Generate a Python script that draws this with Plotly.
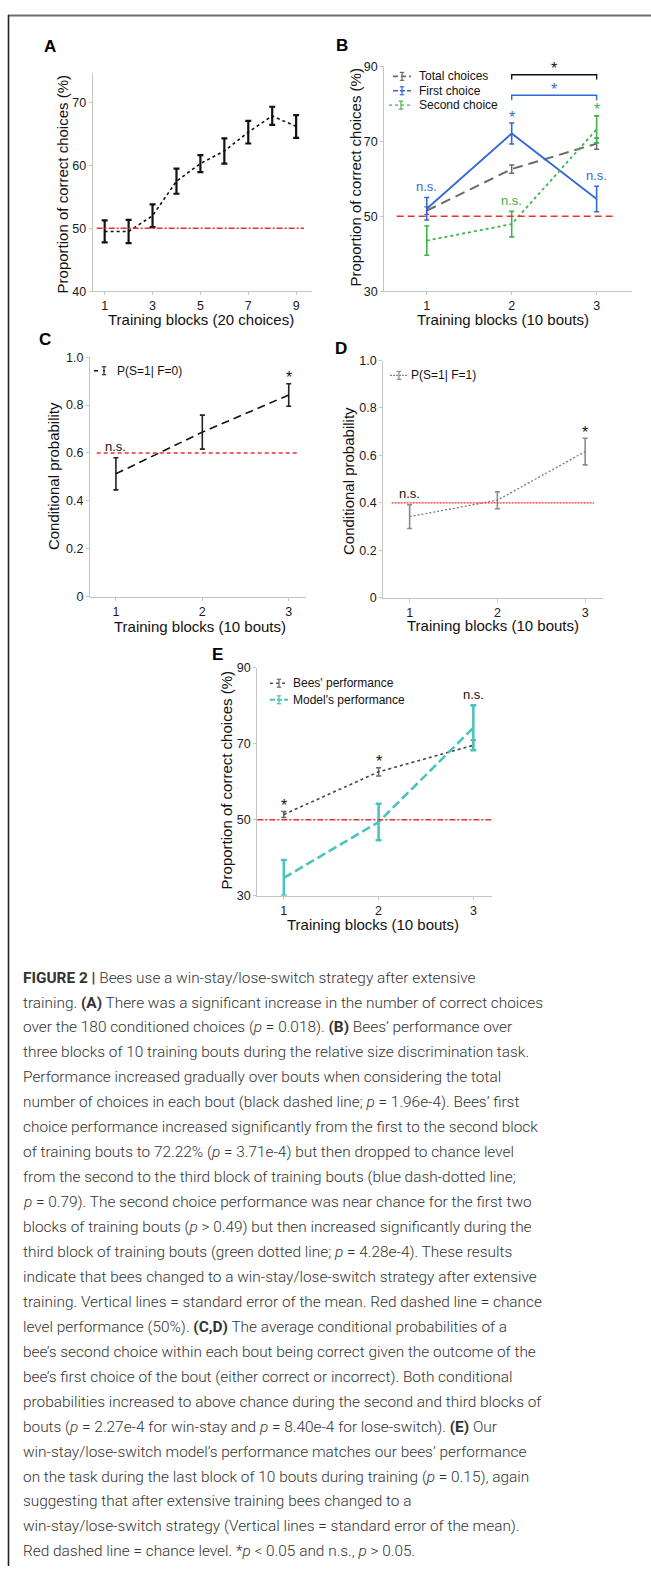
import plotly.graph_objects as go

W, H = 651, 1573

# ---------------- data ----------------
a_blocks = [1, 2, 3, 4, 5, 6, 7, 8, 9]
a_mean = [49.5, 49.5, 52.0, 57.5, 60.3, 62.3, 65.3, 67.9, 66.2]
a_sem = [1.75, 1.85, 1.8, 2.0, 1.35, 2.0, 1.8, 1.45, 1.8]
a_chance = 50
a_xticks = [1, 3, 5, 7, 9]
a_yticks = [40, 50, 60, 70]

b_blocks = [1, 2, 3]
b_total_mean = [51.5, 62.6, 69.4]
b_total_sem = [1.0, 1.1, 1.5]
b_first_mean = [52.0, 72.1, 54.6]
b_first_sem = [3.0, 2.8, 3.4]
b_second_mean = [43.5, 47.9, 73.2]
b_second_sem = [3.9, 3.4, 3.6]
b_first_sig = ["n.s.", "*", "n.s."]
b_second_sig = ["", "n.s.", "*"]
b_bracket_x = [2, 3]
b_bracket_y = [87.8, 82.3]
b_bracket_sig = ["*", "*"]
b_chance = 50
b_yticks = [30, 50, 70, 90]
b_legend = ["Total choices", "First choice", "Second choice"]

c_blocks = [1, 2, 3]
c_mean = [0.513, 0.687, 0.842]
c_sem = [0.067, 0.071, 0.047]
c_sig = ["n.s.", "", "*"]
c_chance = 0.6
cd_yticks = [0, 0.2, 0.4, 0.6, 0.8, 1.0]
cd_yticklabels = ["0", "0.2", "0.4", "0.6", "0.8", "1.0"]
c_legend = "P(S=1| F=0)"

d_blocks = [1, 2, 3]
d_mean = [0.342, 0.411, 0.616]
d_sem = [0.05, 0.036, 0.056]
d_sig = ["n.s.", "", "*"]
d_chance = 0.4
d_legend = "P(S=1| F=1)"

e_blocks = [1, 2, 3]
e_bees_mean = [51.4, 62.6, 69.6]
e_bees_sem = [0.8, 1.1, 1.3]
e_bees_sig = ["*", "*", ""]
e_model_mean = [34.7, 49.4, 74.2]
e_model_sem = [4.7, 4.8, 5.9]
e_model_sig = ["", "", "n.s."]
e_chance = 50
e_legend = ["Bees' performance", "Model's performance"]

caption_lines = [
    "<b>FIGURE 2 |</b> Bees use a win-stay/lose-switch strategy after extensive",
    "training. <b>(A)</b> There was a significant increase in the number of correct choices",
    "over the 180 conditioned choices (<i>p</i> = 0.018). <b>(B)</b> Bees\u2019 performance over",
    "three blocks of 10 training bouts during the relative size discrimination task.",
    "Performance increased gradually over bouts when considering the total",
    "number of choices in each bout (black dashed line; <i>p</i> = 1.96e-4). Bees\u2019 first",
    "choice performance increased significantly from the first to the second block",
    "of training bouts to 72.22% (<i>p</i> = 3.71e-4) but then dropped to chance level",
    "from the second to the third block of training bouts (blue dash-dotted line;",
    "<i>p</i> = 0.79). The second choice performance was near chance for the first two",
    "blocks of training bouts (<i>p</i> &gt; 0.49) but then increased significantly during the",
    "third block of training bouts (green dotted line; <i>p</i> = 4.28e-4). These results",
    "indicate that bees changed to a win-stay/lose-switch strategy after extensive",
    "training. Vertical lines = standard error of the mean. Red dashed line = chance",
    "level performance (50%). <b>(C,D)</b> The average conditional probabilities of a",
    "bee\u2019s second choice within each bout being correct given the outcome of the",
    "bee\u2019s first choice of the bout (either correct or incorrect). Both conditional",
    "probabilities increased to above chance during the second and third blocks of",
    "bouts (<i>p</i> = 2.27e-4 for win-stay and <i>p</i> = 8.40e-4 for lose-switch). <b>(E)</b> Our",
    "win-stay/lose-switch model\u2019s performance matches our bees\u2019 performance",
    "on the task during the last block of 10 bouts during training (<i>p</i> = 0.15), again",
    "suggesting that after extensive training bees changed to a",
    "win-stay/lose-switch strategy (Vertical lines = standard error of the mean).",
    "Red dashed line = chance level. *<i>p</i> &lt; 0.05 and n.s., <i>p</i> &gt; 0.05.",
]

# ---------------- styling ----------------
FONT = "Liberation Sans, Arial, sans-serif"
CAP_FONT = "Roboto, Liberation Sans, Arial, sans-serif"
BLUE = "#3567dc"
GREEN = "#3fb24a"
TEAL = "#4cc3bf"
RED = "#e8322c"


def PX(x):
    return x / W


def PY(y):
    return 1 - y / H


fig = go.Figure()
shapes = []
annotations = []

panels = [
    ("A", "", (92.7, 311.7), (66.7, 286.7), [0.5, 9.65], [40, 74.7], a_xticks, a_yticks, None, (50, 39.7),
     "Proportion of correct choices (%)", (62, 179), "Training blocks (20 choices)", (201, 315)),
    ("B", "2", (384.3, 632.3), (60, 286.7), [0.5, 3.42], [30, 90], b_blocks, b_yticks, None, (342, 39),
     "Proportion of correct choices (%)", (355, 172), "Training blocks (10 bouts)", (502.5, 315)),
    ("C", "3", (90, 306), (353.3, 595), [0.7, 3.2], [0, 1], c_blocks, cd_yticks, cd_yticklabels, (45, 335),
     "Conditional probability", (53.3, 473), "Training blocks (10 bouts)", (199.7, 625)),
    ("D", "4", (383.3, 602.7), (356.7, 596), [0.7, 3.2], [0, 1], d_blocks, cd_yticks, cd_yticklabels, (341, 345),
     "Conditional probability", (348.3, 478), "Training blocks (10 bouts)", (492.8, 624.3)),
    ("E", "5", (257.3, 492.3), (666.7, 896.7), [0.72, 3.2], [30, 90], e_blocks, b_yticks, None, (217.5, 653.5),
     "Proportion of correct choices (%)", (226.7, 780.7), "Training blocks (10 bouts)", (372.7, 926)),
]

layout_axes = {}
for (lab, s, xs, ys, xr, yr, xt, yt, ytt, lpos, ytitle, ytpos, xtitle, xtpos) in panels:
    common = dict(showgrid=False, zeroline=False, showline=True, linecolor="#c4c4c4", linewidth=1.2,
                  ticks="outside", ticklen=3, tickcolor="#c4c4c4",
                  tickfont=dict(family=FONT, size=12.5, color="#1a1a1a"), fixedrange=True)
    layout_axes["xaxis" + s] = dict(common, domain=[PX(xs[0]), PX(xs[1])], range=xr,
                                    tickvals=xt, anchor="y" + s)
    yax = dict(common, domain=[PY(ys[1]), PY(ys[0])], range=yr, tickvals=yt, anchor="x" + s)
    if ytt is not None:
        yax["ticktext"] = ytt
    layout_axes["yaxis" + s] = yax
    annotations.append(dict(text="<b>%s</b>" % lab, x=PX(lpos[0]), y=PY(lpos[1]), xref="paper", yref="paper",
                            showarrow=False, xanchor="center", yanchor="middle",
                            font=dict(family=FONT, size=17, color="#000")))
    annotations.append(dict(text=ytitle, x=PX(ytpos[0]), y=PY(ytpos[1]), xref="paper", yref="paper",
                            showarrow=False, textangle=-90, xanchor="center", yanchor="middle",
                            font=dict(family=FONT, size=15, color="#111")))
    annotations.append(dict(text=xtitle, x=PX(xtpos[0]), y=PY(xtpos[1]), xref="paper", yref="paper",
                            showarrow=False, xanchor="center", yanchor="middle",
                            font=dict(family=FONT, size=15, color="#111")))


def add_series(s, x, mean, sem, color, dash, width, ecolor, ethick, ewidth, name):
    fig.add_trace(go.Scatter(
        x=x, y=mean, mode="lines", name=name, showlegend=False,
        line=dict(color=color, width=width, dash=dash),
        error_y=dict(type="data", array=sem, color=ecolor, thickness=ethick, width=ewidth),
        xaxis="x" + s, yaxis="y" + s))


def add_sig(s, x, mean, sem, labels, color):
    for xi, m, e, t in zip(x, mean, sem, labels):
        if not t:
            continue
        star = t == "*"
        annotations.append(dict(text=t, x=xi, y=m + e, xref="x" + s, yref="y" + s, showarrow=False,
                                xanchor="center", yanchor="middle", yshift=6 if star else 11,
                                font=dict(family=FONT, size=16 if star else 13, color=color)))


def add_chance(s, y, d0, d1, dash, width=1.4):
    shapes.append(dict(type="line", xref="x%s domain" % s, yref="y" + s, x0=d0, x1=d1, y0=y, y1=y,
                       line=dict(color=RED, width=width, dash=dash), layer="above"))


def legend_item(x0, x1, xi, xt, y, label, color, dash, width, ecolor):
    shapes.append(dict(type="line", xref="paper", yref="paper", x0=PX(x0), x1=PX(x1), y0=PY(y), y1=PY(y),
                       line=dict(color=color, width=width, dash=dash)))
    shapes.append(dict(type="line", xref="paper", yref="paper", x0=PX(xi), x1=PX(xi), y0=PY(y - 4), y1=PY(y + 4),
                       line=dict(color=ecolor, width=1.2)))
    for yy in (y - 4, y + 4):
        shapes.append(dict(type="line", xref="paper", yref="paper", x0=PX(xi - 2.2), x1=PX(xi + 2.2),
                           y0=PY(yy), y1=PY(yy), line=dict(color=ecolor, width=1.2)))
    annotations.append(dict(text=label, x=PX(xt), y=PY(y), xref="paper", yref="paper", showarrow=False,
                            xanchor="left", yanchor="middle", font=dict(family=FONT, size=12, color="#111")))


# ---- Panel A ----
add_chance("", a_chance, 0.018, 0.965, "6px,2px,2px,2px", 1.4)
add_series("", a_blocks, a_mean, a_sem, "#111", "dot", 1.6, "#111", 2.2, 3, "A")

# ---- Panel B ----
add_chance("2", b_chance, 0.05, 0.923, "7px,4px", 1.4)
add_series("2", b_blocks, b_total_mean, b_total_sem, "#6a6a6a", "10px,6px", 2.0, "#6a6a6a", 1.4, 2.5, b_legend[0])
add_series("2", b_blocks, b_first_mean, b_first_sem, BLUE, "solid", 1.8, BLUE, 1.6, 2.5, b_legend[1])
add_series("2", b_blocks, b_second_mean, b_second_sem, GREEN, "dot", 1.8, GREEN, 1.6, 2.5, b_legend[2])
add_sig("2", b_blocks, b_first_mean, b_first_sem, b_first_sig, BLUE)
add_sig("2", b_blocks, b_second_mean, b_second_sem, b_second_sig, GREEN)
for by, bt, bc in zip(b_bracket_y, b_bracket_sig, ["#111", BLUE]):
    xa, xb = b_bracket_x
    tip = by - 1.3
    shapes.append(dict(type="path", xref="x2", yref="y2",
                       path="M %s,%s L %s,%s L %s,%s L %s,%s" % (xa, tip, xa, by, xb, by, xb, tip),
                       line=dict(color=bc, width=1.4)))
    annotations.append(dict(text=bt, x=(xa + xb) / 2, y=by, xref="x2", yref="y2", showarrow=False,
                            xanchor="center", yanchor="middle", yshift=6,
                            font=dict(family=FONT, size=16, color=bc)))
legend_item(393, 411, 402, 416.5, 70, b_legend[0], "#6a6a6a", "5px,3px", 1.6, "#6a6a6a")
legend_item(393, 411, 402, 416.5, 84.5, b_legend[1], BLUE, "5px,2px", 1.6, BLUE)
legend_item(389, 413, 401, 416.5, 99, b_legend[2], GREEN, "dot", 1.4, GREEN)

# ---- Panel C ----
add_chance("3", c_chance, 0.031, 0.964, "4px,3px", 1.4)
add_series("3", c_blocks, c_mean, c_sem, "#111", "8px,5px", 1.6, "#222", 1.6, 2.5, c_legend)
add_sig("3", c_blocks, c_mean, c_sem, c_sig, "#111")
legend_item(94, 105, 104, 114.5, 367, c_legend, "#111", "4px,5px", 1.4, "#333")

# ---- Panel D ----
add_chance("4", d_chance, 0.038, 0.96, "2px,1px", 1.4)
add_series("4", d_blocks, d_mean, d_sem, "#7a7a7a", "2px,2px", 1.3, "#8a8a8a", 1.6, 2.5, d_legend)
add_sig("4", d_blocks, d_mean, d_sem, d_sig, "#111")
legend_item(390, 407, 399, 408.5, 371.7, d_legend, "#888", "2px,1px", 1.2, "#888")

# ---- Panel E ----
add_chance("5", e_chance, 0.0, 0.998, "6px,2px,2px,2px", 1.5)
add_series("5", e_blocks, e_bees_mean, e_bees_sem, "#444", "dot", 1.6, "#666", 1.5, 2.5, e_legend[0])
add_series("5", e_blocks, e_model_mean, e_model_sem, TEAL, "9px,4px", 2.6, TEAL, 2.6, 3, e_legend[1])
add_sig("5", e_blocks, e_bees_mean, e_bees_sem, e_bees_sig, "#111")
add_sig("5", e_blocks, e_model_mean, e_model_sem, e_model_sig, "#111")
legend_item(270, 288, 279, 291, 682.3, e_legend[0], "#555", "dot", 1.3, "#666")
legend_item(270, 288, 279, 291, 699, e_legend[1], TEAL, "5px,2px", 2.0, TEAL)

# ---- caption ----
for i, line in enumerate(caption_lines):
    annotations.append(dict(text=line, x=PX(20.7), y=PY(979.3 + i * 25.17), xref="paper", yref="paper",
                            showarrow=False, xanchor="left", yanchor="middle",
                            font=dict(family=CAP_FONT, size=15.4, color="#333", weight=300)))

# ---- frame lines ----
shapes.append(dict(type="line", xref="paper", yref="paper", x0=PX(8), x1=1, y0=PY(8.5), y1=PY(8.5),
                   line=dict(color="#6d6d6d", width=2)))
shapes.append(dict(type="line", xref="paper", yref="paper", x0=PX(8.5), x1=PX(8.5), y0=0, y1=PY(8),
                   line=dict(color="#222", width=1.6)))

fig.update_layout(
    width=W, height=H, margin=dict(l=0, r=0, t=0, b=0),
    paper_bgcolor="white", plot_bgcolor="white", showlegend=False,
    shapes=shapes, annotations=annotations, font=dict(family=FONT),
    **layout_axes,
)

fig.write_html("out.html", config={"displayModeBar": False},
               post_script="document.body.style.margin='0';document.body.style.overflow='hidden';")
